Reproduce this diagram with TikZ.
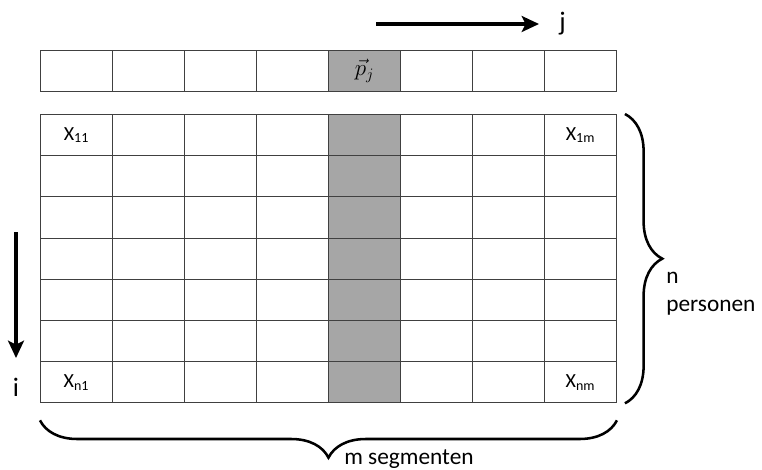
\documentclass[tikz,border=0pt]{standalone}
\usepackage{fontspec}
\setmainfont{Carlito}
\usetikzlibrary{calc,positioning,arrows.meta,decorations.pathreplacing}
\definecolor{ColShade}{HTML}{A6A6A6}
\definecolor{GridLine}{HTML}{404040}

\begin{document}
\begin{tikzpicture}[
    x=0.75pt, y=-0.75pt,
    cell/.style={draw=GridLine, line width=0.7pt, minimum width=54pt,
      minimum height=30.9pt, inner sep=0pt, anchor=north west},
    entry/.style={font=\fontsize{15}{18}\selectfont},
    axisarrow/.style={line width=2.4pt, -{Stealth[length=13pt,width=12pt,inset=3pt]}},
    axislabel/.style={font=\fontsize{20}{24}\selectfont, inner sep=1pt},
    bracepath/.style={line width=1.9pt, decorate,
      decoration={brace, amplitude=28pt}},
    bracelabel/.style={font=\fontsize{17.5}{21}\selectfont, align=left, inner sep=0pt}
  ]
  \useasboundingbox (0,0) rectangle (762,470);

  % vector row
  \foreach \c/\f in {1/white,2/white,3/white,4/white,5/ColShade,6/white,7/white,8/white}
    \node[cell, fill=\f] (p-\c) at ({40+72*(\c-1)},50) {};
  \node[font=\fontsize{17}{20}\selectfont] at (p-5) {$\vec{p}_j$};

  % data matrix
  \foreach \r in {1,...,7}
    \foreach \c/\f in {1/white,2/white,3/white,4/white,5/ColShade,6/white,7/white,8/white}
      \node[cell, fill=\f] (x-\r-\c) at ({40+72*(\c-1)},{114+41.2*(\r-1)}) {};

  \node[entry] at (x-1-1) {X\textsubscript{11}};
  \node[entry] at (x-1-8) {X\textsubscript{1m}};
  \node[entry] at (x-7-1) {X\textsubscript{n1}};
  \node[entry] at (x-7-8) {X\textsubscript{nm}};

  % index arrows
  \coordinate (jstart) at (376,24);
  \coordinate (jend) at (539,24);
  \draw[axisarrow] (jstart) -- (jend);
  \node[axislabel, right=14pt of jend] (jlab) {j};

  \coordinate (istart) at (16,232);
  \coordinate (iend) at (16,358);
  \draw[axisarrow] (istart) -- (iend);
  \node[axislabel, below=14pt of iend] (ilab) {i};

  % braces
  \draw[bracepath] ($(x-1-8.north east)+(8,0)$) -- ($(x-7-8.south east)+(8,0)$)
    coordinate[midway] (nmid);
  \draw[bracepath] ($(x-7-8.south east)+(0,17)$) -- ($(x-7-1.south west)+(0,17)$)
    coordinate[midway] (mmid);
  \node[bracelabel, anchor=north west] (nlab) at (666,272) {n\\personen};
  \node[bracelabel, anchor=west] (mlab) at (344,459) {m segmenten};
\end{tikzpicture}
\end{document}
